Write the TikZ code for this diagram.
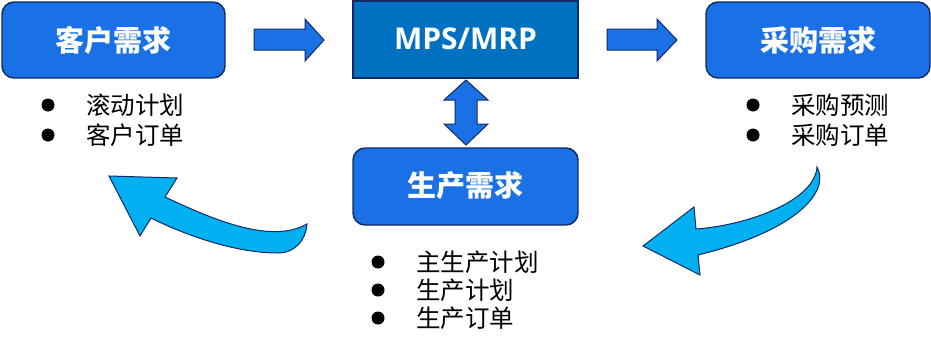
\documentclass[tikz,border=0pt]{standalone}
\usepackage{fontspec}
\setmainfont{Open Sans}
\newfontfamily\cjk{Noto Sans CJK SC}
\newfontfamily\latb{Open Sans}
\definecolor{boxblue}{RGB}{26,113,230}
\definecolor{mpsblue}{RGB}{0,112,192}
\definecolor{navy}{RGB}{16,42,100}
\definecolor{cyanarrow}{RGB}{0,176,240}
\begin{document}
\begin{tikzpicture}[x=1pt,y=-1pt,
  rbox/.style={draw=navy,line width=1.4pt,fill=boxblue,rounded corners=12pt},
  sbox/.style={draw=navy,line width=1.4pt,fill=mpsblue},
  boxtext/.style={text=white,font=\cjk\bfseries\fontsize{29}{32}\selectfont},
  blockarrow/.style={draw=navy,line width=1pt,fill=boxblue,line join=miter},
  curvearrow/.style={draw=navy,line width=1pt,fill=cyanarrow,line join=miter},
  dot/.style={circle,fill=black,inner sep=0pt,minimum size=13pt},
  item/.style={anchor=west,inner sep=0pt,font=\cjk\fontsize{24.5}{27}\selectfont}]
\useasboundingbox (0,0) rectangle (931,351);
% boxes
\draw[rbox] (2,2) rectangle (225,78);
\node[boxtext] (cust) at (113.5,40) {客户需求};
\draw[sbox] (353,1) rectangle (578,78);
\node[text=white,font=\latb\bfseries\fontsize{30}{32}\selectfont] (mps) at (465.5,39) {MPS/MRP};
\draw[rbox] (706,2) rectangle (930,78);
\node[boxtext] (purch) at (818,40) {采购需求};
\draw[rbox] (353,148) rectangle (578,225);
\node[boxtext] (prod) at (465.5,186) {生产需求};
% straight arrows
\draw[blockarrow] (254,29) -- (305,29) -- (305,19) -- (324,40) -- (305,61) -- (305,50) -- (254,50) -- cycle;
\draw[blockarrow] (607,29) -- (657,29) -- (657,19) -- (677,40) -- (657,61) -- (657,50) -- (607,50) -- cycle;
% double arrow
\draw[blockarrow] (466,80) -- (488,100) -- (477,100) -- (477,124) -- (488,124) -- (466,145) -- (444,124) -- (455,124) -- (455,100) -- (444,100) -- cycle;
% curved arrows
\draw[curvearrow] (109,176) -- (177,178) -- (165,197)
  .. controls (210,218) and (270,245) .. (307,224)
  .. controls (306,240) and (295,253) .. (278,253)
  .. controls (235,253) and (185,235) .. (151,218)
  -- (140,236) -- cycle;
\draw[curvearrow] (643,246) -- (694,207) -- (696,229)
  .. controls (750,225) and (815,200) .. (817,167)
  .. controls (830,190) and (800,230) .. (698,255)
  -- (700,275) -- cycle;
% bullets left
\node[dot] (b1) at (48,105) {};
\node[dot] (b2) at (48,135) {};
\node[item] (t1) at (86,105) {滚动计划};
\node[item] (t2) at (86,135) {客户订单};
% bullets right
\node[dot] (b3) at (753,105) {};
\node[dot] (b4) at (753,135) {};
\node[item] (t3) at (791,105) {采购预测};
\node[item] (t4) at (791,135) {采购订单};
% bullets bottom
\node[dot] (b5) at (378,262) {};
\node[dot] (b6) at (378,290) {};
\node[dot] (b7) at (378,318) {};
\node[item] (t5) at (416,262) {主生产计划};
\node[item] (t6) at (416,290) {生产计划};
\node[item] (t7) at (416,318) {生产订单};
\end{tikzpicture}
\end{document}
